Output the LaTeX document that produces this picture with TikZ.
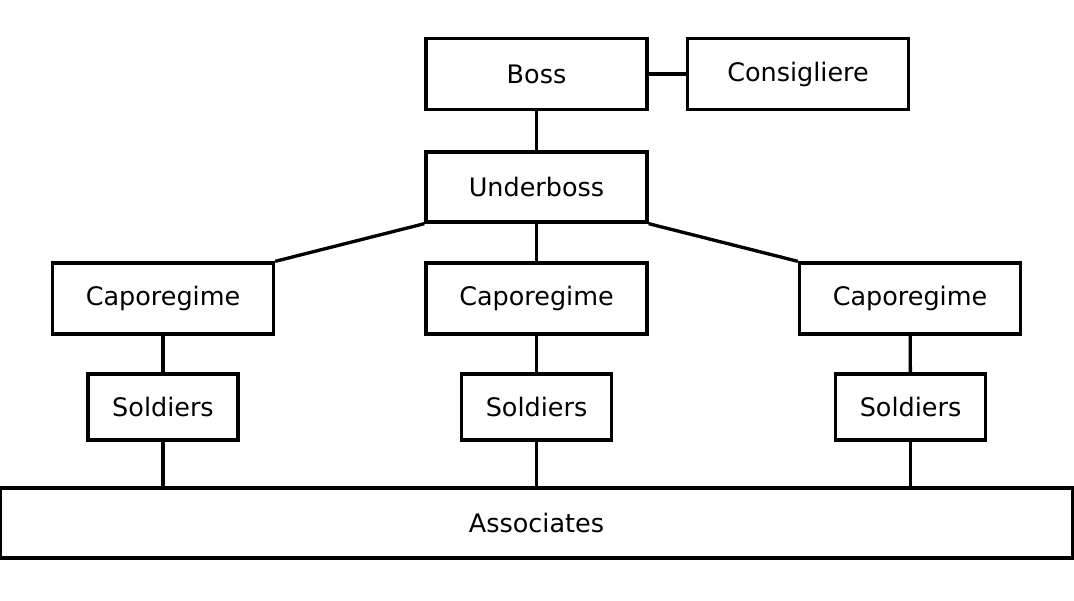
\documentclass[tikz,border=0pt]{standalone}
\usepackage{fontspec}
\setmainfont{DejaVu Sans}
\usepackage{tikz}
\usetikzlibrary{positioning}

\tikzset{
  rank/.style={draw, line width=1.9pt, minimum width=221*0.02cm, minimum height=71*0.02cm, inner sep=0pt, font=\fontsize{14.5}{17}\selectfont},
  soldier/.style={rank, minimum width=150*0.02cm, minimum height=66*0.02cm},
  link/.style={line width=1.9pt}
}

\begin{document}
\begin{tikzpicture}[x=0.02cm, y=-0.02cm]
\useasboundingbox (0,0) rectangle (1074,600);

% Top of the family
\node[rank] (boss) at (536.5,74) {Boss};
\node[rank] (consig) at (798,74) {Consigliere};
\node[rank, minimum height=70*0.02cm] (under) at (536.5,187) {Underboss};

% Capos
\node[rank] (capL) at (163,298.5) {Caporegime};
\node[rank] (capM) at (536.5,298.5) {Caporegime};
\node[rank] (capR) at (910,298.5) {Caporegime};

% Soldiers
\node[soldier] (solL) at (163,407) {Soldiers};
\node[soldier] (solM) at (536.5,407) {Soldiers};
\node[soldier] (solR) at (910.5,407) {Soldiers};

\node[rank, minimum width=1073*0.02cm, minimum height=70*0.02cm] (assoc) at (536.5,523) {Associates};

% Links
\draw[link] (boss) -- (consig);
\draw[link] (boss) -- (under);
\draw[link] (under.south west) -- (capL.north east);
\draw[link] (under) -- (capM);
\draw[link] (under.south east) -- (capR.north west);
\draw[link] (capL) -- (solL);
\draw[link] (capM) -- (solM);
\draw[link] (capR) -- (solR);
\draw[link] (solL.south) -- (solL.south |- assoc.north);
\draw[link] (solM.south) -- (solM.south |- assoc.north);
\draw[link] (solR.south) -- (solR.south |- assoc.north);

\end{tikzpicture}
\end{document}
